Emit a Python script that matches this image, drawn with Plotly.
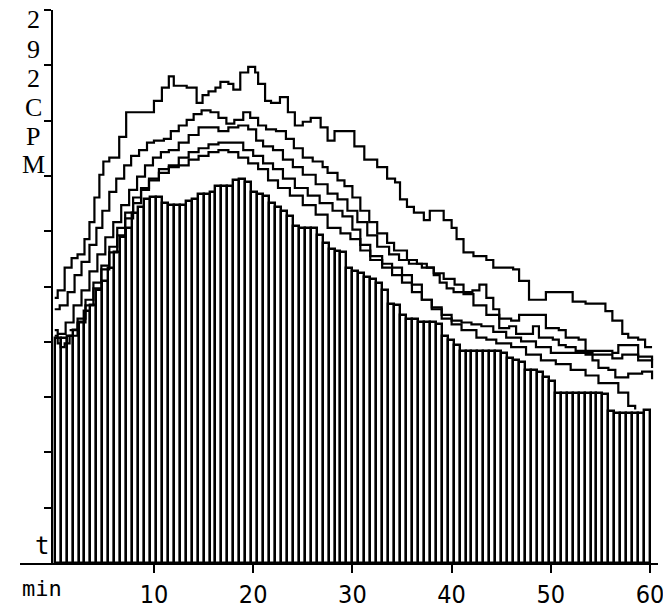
import plotly.graph_objects as go

# ---------------- data ----------------
# histogram of counts (CPM), one bin every 0.6 min from 0 to 60 min
bin_width_min = 0.6
bar_cpm = [119, 119, 120, 123, 127, 133, 136, 144, 149, 156,
           164, 172, 177, 185, 188, 192, 193, 193, 190, 189,
           189, 189, 191, 192, 195, 195, 196, 199, 199, 199,
           202, 203, 201, 196, 195, 194, 190, 188, 186, 183,
           178, 177, 177, 177, 173, 169, 166, 165, 164, 156,
           154, 153, 151, 150, 148, 144, 137, 136, 131, 129,
           129, 127, 127, 127, 126, 120, 118, 115, 112, 112,
           112, 112, 112, 112, 112, 111, 108, 107, 106, 102,
           102, 101, 98, 96, 90, 90, 90, 90, 90, 90,
           90, 90, 89, 80, 79, 79, 79, 79, 79, 81]
bar_min = [round(bin_width_min / 2 + bin_width_min * i, 2) for i in range(len(bar_cpm))]

l1_min = [0, 0.3, 1.0, 1.7, 2.3, 3.0, 3.5, 4.0, 4.5, 4.9, 5.5, 6.0, 6.5, 7.2, 8.5, 9.2, 10.0, 10.8,
          11.5, 12.0, 13.3, 14.3, 14.9, 15.5, 16.2, 16.7, 17.5, 18.0, 18.7, 19.5, 20.2, 20.5, 21.2,
          21.8, 22.7, 23.5, 24.2, 25.0, 25.8, 26.8, 27.5, 28.2, 29.2, 30.2, 31.2, 32.5, 33.5, 34.3,
          34.8, 35.5, 36.2, 37.2, 37.8, 38.5, 39.2, 40.0, 40.5, 41.2, 42.2, 43.5, 44.2, 46.2, 46.8,
          47.8, 49.5, 51.5, 52.2, 53.5, 55.5, 56.2, 57.2, 57.8, 58.8, 59.5, 60.2]
l1_cpm = [140, 144, 156, 161, 163, 171, 180, 193, 205, 212, 214, 214, 225, 238, 238, 238, 244, 251,
          257, 252, 251, 243, 247, 249, 251, 254, 253, 250, 259, 262, 259, 253, 244,
          243, 246, 238, 231, 233, 235, 230, 223, 228, 228, 220, 213, 209, 203, 201,
          192, 188, 185, 181, 186, 186, 181, 177, 171, 164, 162, 160, 156, 155, 149,
          139, 143, 143, 138, 137, 133, 128, 121, 119, 118, 114, 114]

l2_min = [0, 0.5, 1.3, 2.0, 2.7, 3.5, 4.2, 4.8, 5.5, 6.2, 7.0, 7.7, 8.5, 9.3, 10.0, 11.0, 11.7,
          12.5, 13.3, 14.0, 14.8, 15.7, 16.5, 17.3, 18.1, 19.0, 19.7, 20.5, 21.3, 22.3, 23.3, 24.1,
          25.0, 26.0, 27.0, 27.5, 28.5, 29.2, 30.0, 30.8, 31.7, 32.5, 33.5, 34.2, 35.5, 36.5, 37.5,
          38.2, 38.8, 39.5, 40.2, 41.5, 42.1, 42.8, 43.5, 44.2, 44.8, 46.0, 46.8, 48.5, 49.5, 50.8,
          51.5, 52.8, 53.5, 56.2, 56.8, 58.2, 58.8, 60.2]
l2_cpm = [134, 136, 143, 152, 159, 168, 177, 186, 196, 203, 210, 215, 218, 222, 223, 224, 228,
          231, 234, 237, 239, 238, 235, 232, 234, 238, 235, 231, 229, 228, 224, 219,
          214, 212, 209, 206, 202, 199, 193, 186, 180, 174, 169, 165, 160, 158, 156,
          152, 148, 145, 143, 143, 144, 147, 140, 134, 129, 128, 131, 131, 124, 123,
          119, 118, 112, 111, 115, 115, 109, 107]

l3_min = [0, 0.3, 1.1, 1.9, 2.7, 3.5, 4.3, 5.1, 5.9, 6.7, 7.5, 8.3, 9.1, 9.9, 10.7, 11.5, 12.5,
          13.5, 14.5, 15.5, 16.5, 17.5, 18.5, 19.5, 20.3, 21.0, 22.0, 23.0, 24.0, 25.0, 26.3, 27.5,
          28.5, 29.5, 30.5, 31.5, 32.5, 33.7, 34.7, 35.7, 37.0, 38.2, 39.2, 40.3, 41.2, 42.2, 43.5,
          44.8, 45.8, 46.5, 47.5, 48.2, 48.8, 50.2, 50.8, 51.5, 52.5, 53.5, 54.8, 56.2, 57.2, 58.8,
          60.2]
l3_cpm = [123, 121, 127, 136, 144, 154, 163, 172, 180, 189, 197, 204, 210, 214, 217, 218, 222,
          226, 230, 230, 228, 230, 231, 229, 223, 220, 218, 213, 209, 205, 200, 195,
          192, 186, 180, 173, 167, 163, 160, 158, 156, 153, 150, 147, 142, 136, 131,
          124, 125, 121, 121, 125, 119, 118, 115, 114, 112, 110, 110, 108, 110, 107,
          103]

l4_min = [0, 0.3, 0.6, 1.0, 1.5, 2.3, 3.1, 3.9, 4.7, 5.5, 6.3, 7.1, 7.9, 8.7, 9.5, 10.5, 11.5,
          12.5, 13.5, 14.5, 15.5, 16.5, 17.7, 19.0, 20.0, 21.0, 22.0, 23.0, 24.2, 25.5, 26.7, 28.0,
          29.0, 30.0, 30.8, 31.8, 33.0, 34.0, 35.0, 36.0, 37.0, 38.0, 39.0, 40.0, 41.0, 42.0, 43.0,
          44.2, 45.5, 47.0, 48.5, 50.0, 51.2, 52.8, 54.2, 54.8, 55.8, 56.5, 57.8, 59.2, 60.2]
l4_cpm = [120, 116, 114, 116, 120, 127, 136, 145, 155, 164, 173, 182, 190, 197, 202, 206, 210,
          214, 217, 219, 221, 222, 222, 218, 215, 211, 208, 203, 198, 194, 190, 186,
          183, 176, 168, 162, 158, 156, 152, 147, 139, 135, 131, 128, 127, 126, 125,
          122, 119, 117, 114, 111, 111, 111, 107, 103, 102, 98, 100, 101, 97]

l5_min = [1.5, 2.3, 3.1, 3.9, 4.7, 5.5, 6.3, 7.1, 7.9, 8.7, 9.5, 10.5, 11.5, 12.5, 13.5, 14.5,
          15.5, 16.5, 17.5, 18.5, 19.5, 20.5, 21.5, 22.5, 23.7, 25.0, 26.3, 27.5, 28.8, 29.8, 30.8,
          31.8, 33.0, 34.0, 35.0, 36.0, 37.0, 38.0, 39.0, 40.0, 41.0, 42.5, 43.5, 44.5, 46.0, 47.5,
          49.0, 50.5, 52.0, 53.5, 54.8, 56.2, 56.8, 57.8, 58.5]
l5_cpm = [123, 129, 139, 148, 157, 167, 177, 185, 193, 198, 203, 208, 209, 210, 213, 215,
          217, 218, 217, 214, 211, 208, 202, 198, 194, 189, 184, 177, 174, 171, 165,
          160, 156, 152, 148, 143, 139, 134, 129, 126, 123, 119, 118, 116, 114, 110,
          107, 105, 102, 99, 95, 95, 90, 83, 81]

full_scale_cpm = 292
y_tick_vals = [29.2, 58.4, 87.6, 116.8, 146.0, 175.2, 204.4, 233.6, 262.8, 292.0]
x_tick_vals = [10, 20, 30, 40, 50, 60]
x_tick_text = ["10", "20", "30", "40", "50", "60"]
y_title_chars = ["2", "9", "2", "C", "P", "M"]

# ---------------- figure ----------------
X_RANGE = [-3.5, 60.8]
PLOT_LEFT, PLOT_RIGHT, PLOT_TOP, PLOT_BOTTOM = 20, 658, 10, 563
plot_w = PLOT_RIGHT - PLOT_LEFT
plot_h = PLOT_BOTTOM - PLOT_TOP
y_axis_px = 52

fig = go.Figure()

fig.add_trace(go.Bar(
    x=bar_min, y=bar_cpm, width=bin_width_min,
    marker=dict(color="white", line=dict(color="black", width=2.4)),
    showlegend=False, hoverinfo="skip",
))

for xs, ys in [(l1_min, l1_cpm), (l2_min, l2_cpm), (l3_min, l3_cpm),
               (l4_min, l4_cpm), (l5_min, l5_cpm)]:
    fig.add_trace(go.Scatter(
        x=xs, y=ys, mode="lines",
        line=dict(color="black", width=2.2, shape="hv"),
        showlegend=False, hoverinfo="skip",
    ))

fig.update_layout(
    width=663, height=612,
    margin=dict(l=PLOT_LEFT, r=663 - PLOT_RIGHT, t=PLOT_TOP, b=612 - PLOT_BOTTOM),
    paper_bgcolor="white", plot_bgcolor="white",
    bargap=0,
    xaxis=dict(
        range=X_RANGE, showgrid=False, zeroline=False, automargin=False,
        showline=True, linecolor="black", linewidth=2,
        tickmode="array", tickvals=x_tick_vals, ticktext=x_tick_text,
        ticks="outside", ticklen=8, tickwidth=2, tickcolor="black",
        ticklabelstandoff=0, ticklabeloverflow="allow",
        tickfont=dict(family="Liberation Sans Narrow, DejaVu Sans Condensed, DejaVu Sans Mono, monospace",
                      size=25, color="black"),
    ),
    yaxis=dict(
        range=[0, full_scale_cpm], showgrid=False, zeroline=False, automargin=False,
        anchor="free", position=(y_axis_px - PLOT_LEFT) / plot_w,
        showline=True, linecolor="black", linewidth=2,
        tickmode="array", tickvals=y_tick_vals, showticklabels=False,
        ticks="outside", ticklen=7, tickwidth=2, tickcolor="black",
    ),
)

# stacked axis title "292 CPM"
char_y = [20, 49, 78, 107, 136, 165]
for ch, py in zip(y_title_chars, char_y):
    fig.add_annotation(
        xref="paper", yref="paper",
        x=(33 - PLOT_LEFT) / plot_w, y=1 - (py - PLOT_TOP) / plot_h,
        text=ch, showarrow=False, xanchor="center", yanchor="middle",
        font=dict(family="Liberation Serif, DejaVu Serif, serif", size=26, color="black"),
    )

fig.add_annotation(
    xref="paper", yref="paper", x=(42 - PLOT_LEFT) / plot_w, y=1 - (546 - PLOT_TOP) / plot_h,
    text="t", showarrow=False, xanchor="center", yanchor="middle",
    font=dict(family="DejaVu Sans Mono, monospace", size=24, color="black"),
)
fig.add_annotation(
    xref="paper", yref="paper", x=(42 - PLOT_LEFT) / plot_w, y=1 - (588 - PLOT_TOP) / plot_h,
    text="min", showarrow=False, xanchor="center", yanchor="middle",
    font=dict(family="DejaVu Sans Mono, monospace", size=22, color="black"),
)

fig.write_html("out.html")
